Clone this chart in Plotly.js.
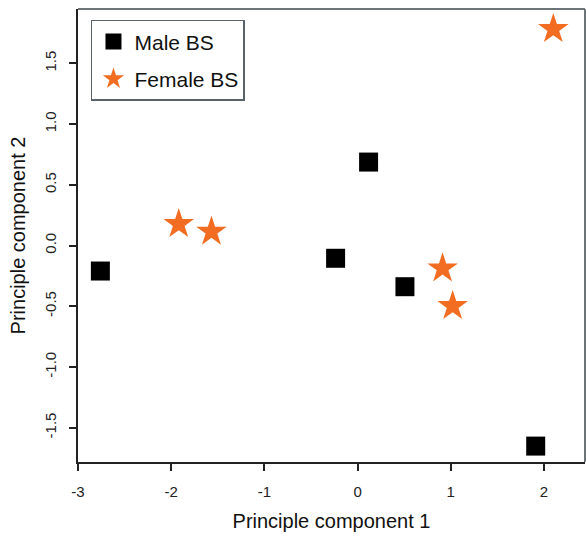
<!DOCTYPE html>
<html>
<head>
<meta charset="utf-8">
<script src="https://cdn.plot.ly/plotly-3.0.1.min.js"></script>
<style>html,body{margin:0;padding:0;background:#fff;}#chart{width:586px;height:539px;}</style>
</head>
<body>
<div id="chart"></div>
<script>
var maleX = [-2.76, -0.236, 0.118, 0.508, 1.911];
var maleY = [-0.21, -0.105, 0.687, -0.339, -1.651];
var femaleX = [-1.919, -1.568, 0.912, 1.02, 2.10];
var femaleY = [0.177, 0.114, -0.188, -0.498, 1.782];
var xTicks = [-3, -2, -1, 0, 1, 2];
var yTicks = [-1.5, -1.0, -0.5, 0.0, 0.5, 1.0, 1.5];
var yTickText = ["-1.5", "-1.0", "-0.5", "0.0", "0.5", "1.0", "1.5"];

var font = "Liberation Sans, Arial, Helvetica, sans-serif";

var traces = [
  {x: maleX, y: maleY, type: "scatter", mode: "markers", name: "Male BS", legendgroup: "m",
   marker: {symbol: "square", size: 19, color: "#000000", line: {width: 0}}},
  {x: femaleX, y: femaleY, type: "scatter", mode: "markers", name: "Female BS", legendgroup: "f",
   marker: {symbol: "star", size: 23, color: "#f26d21", line: {width: 0}}}
];

var layout = {
  width: 586, height: 539,
  margin: {l: 78, r: 1, t: 9, b: 77},
  paper_bgcolor: "#ffffff", plot_bgcolor: "#ffffff",
  font: {family: font, color: "#222"},
  showlegend: true,
  legend: {x: 0.0256, y: 0.976, xanchor: "left", yanchor: "top",
           bordercolor: "#5a6468", borderwidth: 1.5, bgcolor: "#ffffff",
           font: {size: 21, color: "#111", family: font},
           itemsizing: "trace", tracegroupgap: 7, itemwidth: 32},
  xaxis: {range: [-3.0, 2.44], tickvals: xTicks, ticktext: xTicks.map(String),
          showgrid: false, zeroline: false, showline: true, linecolor: "#222", linewidth: 2,
          ticks: "outside", ticklen: 7, tickwidth: 2, tickcolor: "#222",
          tickfont: {size: 15, color: "#222"}, ticklabelstandoff: 8,
          title: {text: "Principle component 1", font: {size: 20, color: "#111"}, standoff: 15}},
  yaxis: {range: [-1.782, 1.947], tickvals: yTicks, ticktext: yTickText,
          showgrid: false, zeroline: false, showline: true, linecolor: "#222", linewidth: 2,
          ticks: "outside", ticklen: 7, tickwidth: 2, tickcolor: "#222", tickangle: -90,
          tickfont: {size: 15, color: "#222"}, ticklabelstandoff: 7,
          title: {text: "Principle component 2", font: {size: 20, color: "#111"}, standoff: 11}},
  shapes: [
    {type: "line", xref: "paper", yref: "paper", x0: 0, x1: 1, y0: 1, y1: 1,
     line: {color: "#6d7478", width: 2}},
    {type: "line", xref: "paper", yref: "paper", x0: 1, x1: 1, y0: 0, y1: 1,
     line: {color: "#6d7478", width: 2}}
  ]
};

Plotly.newPlot("chart", traces, layout, {displayModeBar: false, staticPlot: true});
</script>
</body>
</html>
